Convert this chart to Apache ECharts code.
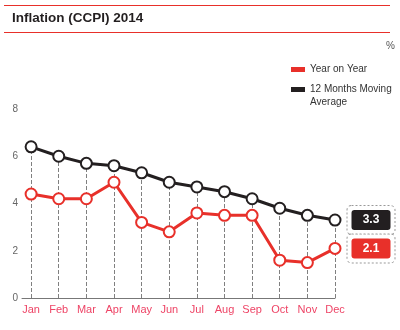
<!DOCTYPE html>
<html><head><meta charset="utf-8">
<script src="https://cdn.jsdelivr.net/npm/echarts@6/dist/echarts.min.js"></script>
<style>html,body{margin:0;padding:0;background:#fff}#c{width:400px;height:330px}</style>
</head><body><div id="c"></div>
<script>
var months = ['Jan','Feb','Mar','Apr','May','Jun','Jul','Aug','Sep','Oct','Nov','Dec'];
var yoy = [4.4, 4.2, 4.2, 4.9, 3.2, 2.8, 3.6, 3.5, 3.5, 1.6, 1.5, 2.1];
var movingAvg = [6.4, 6.0, 5.7, 5.6, 5.3, 4.9, 4.7, 4.5, 4.2, 3.8, 3.5, 3.3];
var yTicks = [0, 2, 4, 6, 8];
var RED = '#e8302a', BLACK = '#231f20', FONT = 'Liberation Sans, Arial, sans-serif';
var MA_NAME = '12 Months Moving Average';

function pts(arr){ return arr.map(function(v,i){ return [i, v]; }); }
var dropLines = movingAvg.map(function(v,i){
  return [{coord:[i, 0]}, {coord:[i, Math.max(v, yoy[i])]}];
});
function endLabel(bg){
  return {
    show: true, position: 'right', distance: 6,
    formatter: function(p){ return p.dataIndex === months.length-1 ? '{b|' + p.value[1].toFixed(1) + '}' : ''; },
    borderColor: '#999', borderWidth: 1, borderType: [2,2], borderRadius: 4,
    padding: [4, 4, 4, 4], backgroundColor: '#fff',
    rich: { b: { backgroundColor: bg, color: '#fff', fontFamily: FONT, fontSize: 12, fontWeight: 'bold',
                 width: 39, height: 20, lineHeight: 20, align: 'center', borderRadius: 3 } }
  };
}
var chart = echarts.init(document.getElementById('c'), null, {renderer: 'canvas'});
chart.setOption({
  animation: false,
  textStyle: {fontFamily: FONT},
  graphic: [
    {type: 'line', shape: {x1: 4, y1: 5.5, x2: 390, y2: 5.5}, style: {stroke: RED, lineWidth: 1}},
    {type: 'line', shape: {x1: 4, y1: 32.5, x2: 390, y2: 32.5}, style: {stroke: RED, lineWidth: 1}},
    {type: 'text', left: 12, top: 11, style: {text: 'Inflation (CCPI) 2014', fill: '#231f20', font: 'bold 13.5px ' + FONT}},
    {type: 'text', left: 386, top: 41, style: {text: '%', fill: '#555', font: '10px ' + FONT}}
  ],
  legend: {
    orient: 'vertical', left: 291, top: 63, padding: 0, icon: 'rect', itemWidth: 14, itemHeight: 5, itemGap: -6,
    textStyle: {fontFamily: FONT, fontSize: 10, color: '#333', lineHeight: 13},
    itemStyle: {borderWidth: 0},
    formatter: function(n){ return n === MA_NAME ? '\n12 Months Moving\nAverage' : n; },
    data: [
      {name: 'Year on Year', itemStyle: {color: RED}},
      {name: MA_NAME, itemStyle: {color: BLACK}}
    ]
  },
  grid: {left: 22, right: 65, top: 109, bottom: 32},
  xAxis: {
    type: 'value', min: -0.33, max: 11,
    axisLine: {show: true, lineStyle: {color: '#777', width: 1}},
    axisTick: {show: false}, splitLine: {show: false},
    axisLabel: {customValues: months.map(function(m,i){return i;}), formatter: function(v){ return months[Math.round(v)]; },
      color: '#ee4466', fontSize: 11, margin: 6, fontFamily: FONT}
  },
  yAxis: {
    type: 'value', min: yTicks[0], max: yTicks[yTicks.length-1], interval: 2,
    axisLine: {show: false}, axisTick: {show: false}, splitLine: {show: false},
    axisLabel: {color: '#666', fontSize: 10, margin: 4, fontFamily: FONT}
  },
  series: [
    {type: 'line', name: 'drop', data: [], z: 1, silent: true,
     markLine: {silent: true, z: 1, symbol: 'none', label: {show: false}, animation: false,
       lineStyle: {color: '#808080', type: [4, 2], width: 1}, data: dropLines}},
    {type: 'line', name: MA_NAME, data: pts(movingAvg), z: 3,
     symbol: 'circle', symbolSize: 11, showAllSymbol: true,
     lineStyle: {color: BLACK, width: 3},
     itemStyle: {color: '#fff', borderColor: BLACK, borderWidth: 2},
     label: endLabel('#231f20')},
    {type: 'line', name: 'Year on Year', data: pts(yoy), z: 4,
     symbol: 'circle', symbolSize: 11, showAllSymbol: true,
     lineStyle: {color: RED, width: 3},
     itemStyle: {color: '#fff', borderColor: RED, borderWidth: 2},
     label: endLabel(RED)}
  ]
});
</script></body></html>
